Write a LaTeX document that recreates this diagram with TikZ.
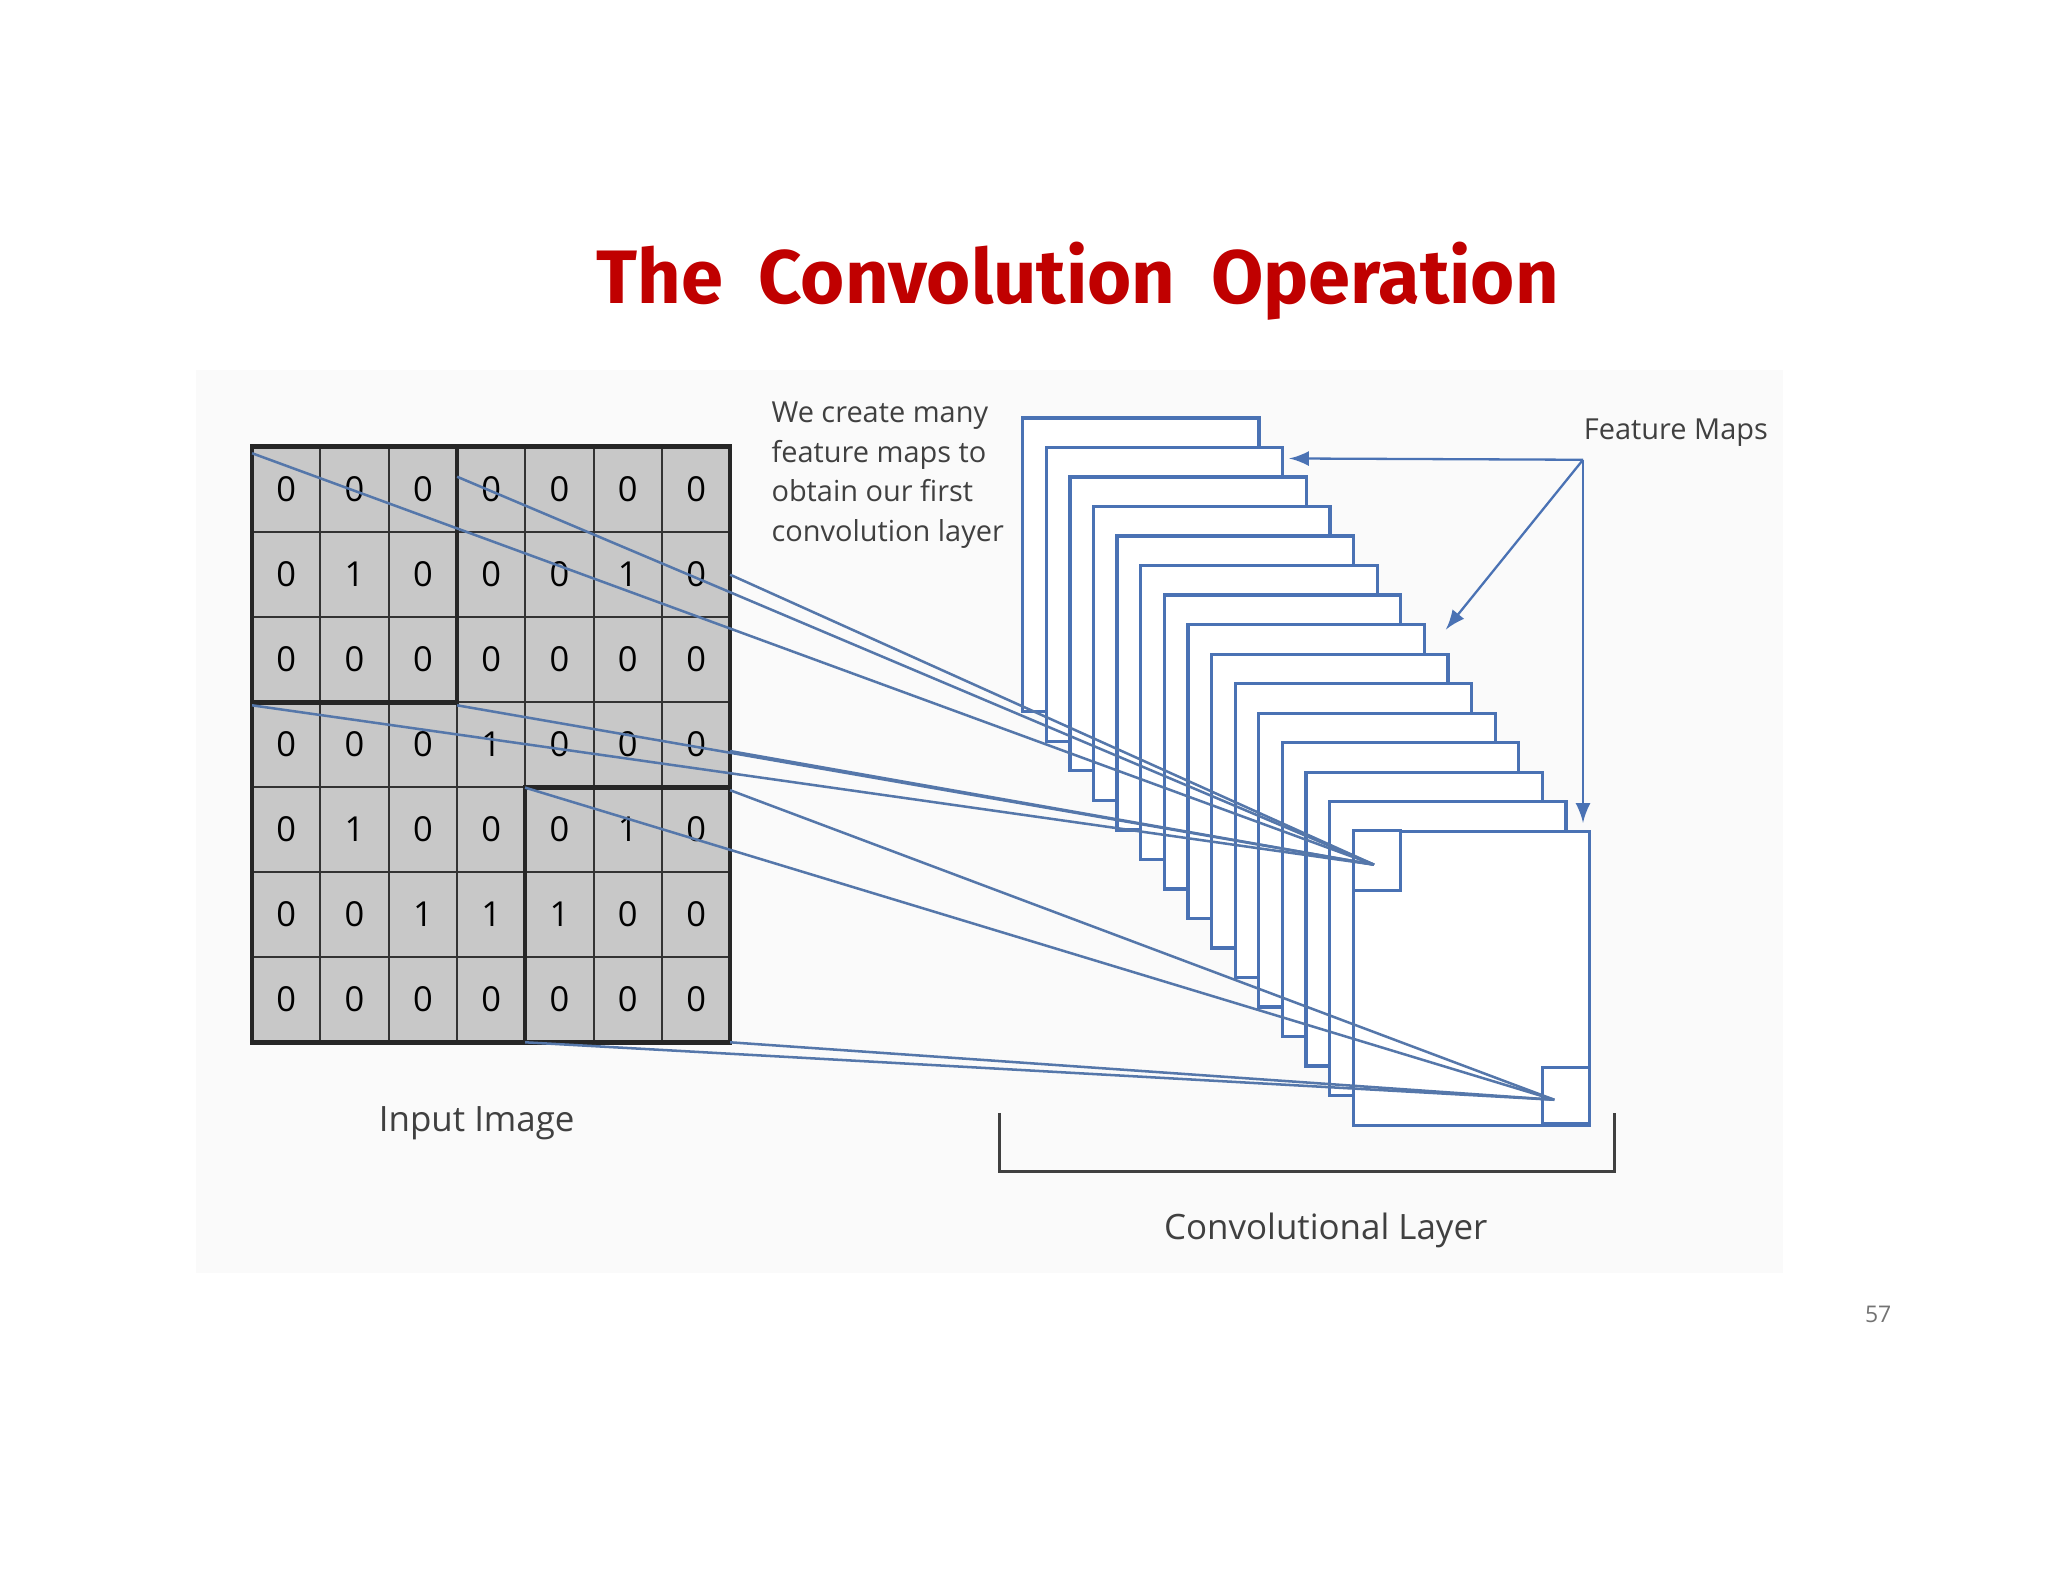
\documentclass[tikz,border=0pt]{standalone}
\usepackage{fontspec}
\setmainfont{Open Sans}
\newfontfamily\titlefont{Fira Sans}
\begin{document}
\begin{tikzpicture}[x=0.01cm,y=-0.01cm,
  fm/.style={draw=fmblue,line width=0.7pt,fill=white},
  cn/.style={draw=lineblue,line width=0.55pt},
  lab/.style={text=textgray,font=\fontsize{6.3}{8.6}\selectfont,align=left,inner sep=0},
  arr/.style={draw=fmblue,line width=0.5pt,-latex}]
\definecolor{fmblue}{HTML}{4A72B4}
\definecolor{lineblue}{HTML}{5577AA}
\definecolor{textgray}{HTML}{404040}
\definecolor{titlered}{HTML}{C00000}
\definecolor{cellgray}{HTML}{C8C8C8}
\useasboundingbox (0,0) rectangle (1568,1211);
\fill[white] (0,0) rectangle (1568,1211);
\fill[black!2] (150,283) rectangle (1365,975);
\node (title) at (825,215) {\titlefont\bfseries\color{titlered}\fontsize{16.5}{20}\selectfont The\ \ Convolution\ \ Operation};
% grid
\fill[cellgray] (193,342) rectangle (559,798);
\foreach \r [count=\i from 0] in {{0,0,0,0,0,0,0},{0,1,0,0,0,1,0},{0,0,0,0,0,0,0},{0,0,0,1,0,0,0},{0,1,0,0,0,1,0},{0,0,1,1,1,0,0},{0,0,0,0,0,0,0}}{
  \foreach \v [count=\j from 0] in \r {
    \node[draw=black!80,line width=0.4pt,minimum width=52.3*0.1mm,minimum height=65.1*0.1mm,inner sep=0,font=\fontsize{7.5}{9}\selectfont] (c\i\j) at ({193+26.15+52.3*\j},{342+32.55+65.1*\i}) {\v};
  }}
\draw[line width=1pt,black!85] (193,342) rectangle (559,798);
\draw[line width=1pt,black!85] (193,342) rectangle (350,538);
\draw[line width=1pt,black!85] (350,342) -- (350,538);
\draw[line width=1pt,black!85] (402,603) rectangle (559,798);
% feature maps
\foreach \k in {0,...,14}{
  \draw[fm] ({783+18.07*\k},{320+22.6*\k}) rectangle ({964+18.07*\k},{545+22.6*\k});
}
\draw[fm] (1036,636) rectangle (1072,682);
\draw[fm] (1181,817) rectangle (1217,860);
\coordinate (t1) at (1052,662);
\coordinate (t2) at (1190,842);
% connectors
\coordinate (s1) at (193,347); \coordinate (s2) at (350,365);
\coordinate (s3) at (193,540); \coordinate (s4) at (350,540);
\coordinate (s5) at (402,603); \coordinate (s6) at (559,605);
\coordinate (s7) at (402,798); \coordinate (s8) at (559,798);
\coordinate (s9) at (559,440); \coordinate (s10) at (559,575);
\foreach \s in {s1,s2,s3,s4,s9,s10} \draw[cn] (\s) -- (t1);
\foreach \s in {s5,s6,s7,s8} \draw[cn] (\s) -- (t2);
% labels
\node[lab,anchor=north west] (txt) at (590,307) {We create many\\feature maps to\\obtain our first\\convolution layer};
\node[lab,anchor=west] (fmlab) at (1212,331) {Feature Maps};
\node[text=textgray,font=\fontsize{7.6}{10}\selectfont] (inlab) at (365,860) {Input Image};
\node[text=textgray,font=\fontsize{7.6}{10}\selectfont] (cllab) at (1015,942) {Convolutional Layer};
\node[text=black!55,font=\fontsize{5}{6}\selectfont] (pg) at (1438,1006) {57};
% bracket
\draw[line width=0.6pt,textgray] (765,852) -- (765,897) -- (1236,897) -- (1236,852);
% arrows
\coordinate (a0) at (1212,352);
\draw[arr] (a0) -- (987,351);
\draw[arr] (a0) -- (1107,482);
\draw[arr] (a0) -- (1212,630);
\end{tikzpicture}
\end{document}
